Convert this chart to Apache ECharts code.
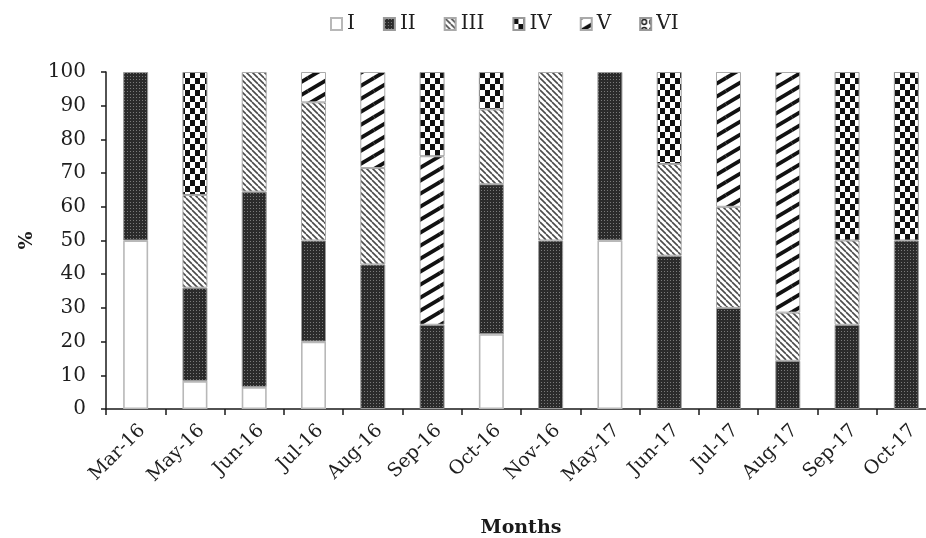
<!DOCTYPE html>
<html>
<head>
<meta charset="utf-8">
<title>Monthly composition (%)</title>
<script src="https://cdn.jsdelivr.net/npm/echarts@6/dist/echarts.min.js"></script>
<style>
  html, body { margin: 0; padding: 0; background: #fff; }
  #chart { width: 926px; height: 538px; }
</style>
</head>
<body>
<div id="chart"></div>
<script>
// Sampling months
const months = ['Mar-16', 'May-16', 'Jun-16', 'Jul-16', 'Aug-16', 'Sep-16', 'Oct-16',
                'Nov-16', 'May-17', 'Jun-17', 'Jul-17', 'Aug-17', 'Sep-17', 'Oct-17'];

// Percentage share of each class per month
const classI   = [50, 8.3, 6.5, 20, 0, 0, 22.2, 0, 50, 0, 0, 0, 0, 0];
const classII  = [50, 27.7, 58, 30, 42.9, 25, 44.5, 50, 50, 45.5, 30, 14.3, 25, 50];
const classIII = [0, 27.5, 35.5, 41, 28.6, 0, 22.2, 50, 0, 27.2, 30, 14.3, 25, 0];
const classIV  = [0, 36.5, 0, 0, 0, 25, 11.1, 0, 0, 27.3, 0, 0, 50, 50];
const classV   = [0, 0, 0, 9, 28.5, 50, 0, 0, 0, 0, 40, 71.4, 0, 0];
const classVI  = [0, 0, 0, 0, 0, 0, 0, 0, 0, 0, 0, 0, 0, 0];

const yTicks = { min: 0, max: 100, step: 10 };

// ---- hatch / fill patterns ----
function makeCanvas(w, h) {
  const c = document.createElement('canvas');
  c.width = w; c.height = h;
  return c;
}
function patWhite() {
  const c = makeCanvas(4, 4);
  const g = c.getContext('2d');
  g.fillStyle = '#ffffff'; g.fillRect(0, 0, 4, 4);
  return c;
}
function patDots() {
  const c = makeCanvas(3, 3);
  const g = c.getContext('2d');
  g.fillStyle = '#2b2b2b'; g.fillRect(0, 0, 3, 3);
  g.fillStyle = '#7a7a7a'; g.fillRect(1, 1, 1, 1);
  return c;
}
function patThinDiag() {
  const s = 6;
  const c = makeCanvas(s, s);
  const g = c.getContext('2d');
  g.fillStyle = '#ffffff'; g.fillRect(0, 0, s, s);
  g.strokeStyle = '#4a4a4a'; g.lineWidth = 1.6;
  for (const o of [-s, 0, s]) {
    g.beginPath(); g.moveTo(o, 0); g.lineTo(o + s, s); g.stroke();
  }
  return c;
}
function patChecker() {
  const sx = 5, sy = 6;
  const c = makeCanvas(2 * sx, 2 * sy);
  const g = c.getContext('2d');
  g.fillStyle = '#ffffff'; g.fillRect(0, 0, 2 * sx, 2 * sy);
  g.fillStyle = '#111111';
  g.fillRect(0, 0, sx, sy); g.fillRect(sx, sy, sx, sy);
  return c;
}
function patWideDiag() {
  const w = 22, h = 13;
  const c = makeCanvas(w, h);
  const g = c.getContext('2d');
  g.fillStyle = '#ffffff'; g.fillRect(0, 0, w, h);
  g.strokeStyle = '#111111'; g.lineWidth = 3.8;
  for (const dx of [-w, 0, w]) {
    for (const dy of [-h, 0, h]) {
      g.beginPath(); g.moveTo(dx, h + dy); g.lineTo(w + dx, dy); g.stroke();
    }
  }
  return c;
}
function patRings() {
  const s = 8;
  const c = makeCanvas(s, s);
  const g = c.getContext('2d');
  g.fillStyle = '#ffffff'; g.fillRect(0, 0, s, s);
  g.strokeStyle = '#222'; g.lineWidth = 1.5;
  g.beginPath(); g.arc(s / 2, s / 2, 2.4, 0, Math.PI * 2); g.stroke();
  return c;
}

const fills = {
  'I':   { image: patWhite(),    repeat: 'repeat' },
  'II':  { image: patDots(),     repeat: 'repeat' },
  'III': { image: patThinDiag(), repeat: 'repeat' },
  'IV':  { image: patChecker(),  repeat: 'repeat' },
  'V':   { image: patWideDiag(), repeat: 'repeat' },
  'VI':  { image: patRings(),    repeat: 'repeat' }
};
const borders = { 'I': '#b8b8b8', 'II': '#9a9a9a', 'III': '#aaaaaa', 'IV': '#999999', 'V': '#aaaaaa', 'VI': '#999999' };

// Stacking order from the bottom of each bar
const stackOrder = [
  ['I', classI], ['II', classII], ['III', classIII],
  ['V', classV], ['IV', classIV], ['VI', classVI]
];

const serif = '"DejaVu Serif", "Liberation Serif", serif';

const series = stackOrder.map(([name, vals]) => ({
  name: name,
  type: 'bar',
  stack: 'total',
  barWidth: 25,
  data: vals.map(v => (v === 0 ? null : v)),
  itemStyle: {
    color: fills[name],
    borderColor: borders[name],
    borderWidth: name === 'I' ? 1.6 : 1
  },
  emphasis: { disabled: true }
}));

const chart = echarts.init(document.getElementById('chart'), null, { renderer: 'canvas' });
chart.setOption({
  animation: false,
  backgroundColor: '#ffffff',
  legend: {
    data: ['I', 'II', 'III', 'IV', 'V', 'VI'],
    top: 9,
    left: 325,
    icon: 'rect',
    itemWidth: 11,
    itemHeight: 12,
    itemGap: 28,
    textStyle: { fontFamily: serif, fontSize: 20, color: '#1e1e1e' },
    selectedMode: false
  },
  // plot area runs slightly past the right edge of the canvas
  grid: { left: 106, top: 72, width: 830, height: 337, containLabel: false, outerBoundsMode: 'none' },
  xAxis: {
    type: 'category',
    data: months,
    name: 'Months',
    nameLocation: 'middle',
    nameGap: 110,
    nameTextStyle: { fontFamily: serif, fontSize: 19, fontWeight: 'bold', color: '#1a1a1a' },
    axisLine: { show: true, lineStyle: { color: '#1a1a1a', width: 1.5 } },
    axisTick: { show: true, length: 6, lineStyle: { color: '#1a1a1a', width: 1.5 } },
    axisLabel: { rotate: 45, interval: 0, margin: 12, verticalAlign: 'top', fontFamily: serif, fontSize: 19, color: '#1e1e1e' },
    splitLine: { show: false }
  },
  yAxis: {
    type: 'value',
    min: yTicks.min,
    max: yTicks.max,
    interval: yTicks.step,
    name: '%',
    nameLocation: 'middle',
    nameRotate: 90,
    nameGap: 62,
    nameTextStyle: { fontFamily: serif, fontSize: 19, fontWeight: 'bold', color: '#1a1a1a' },
    axisLine: { show: true, lineStyle: { color: '#1a1a1a', width: 1.5 } },
    axisTick: { show: true, length: 5, lineStyle: { color: '#1a1a1a', width: 1.5 } },
    axisLabel: { margin: 20, fontFamily: serif, fontSize: 20, color: '#1e1e1e' },
    splitLine: { show: false }
  },
  series: series
});
</script>
</body>
</html>
